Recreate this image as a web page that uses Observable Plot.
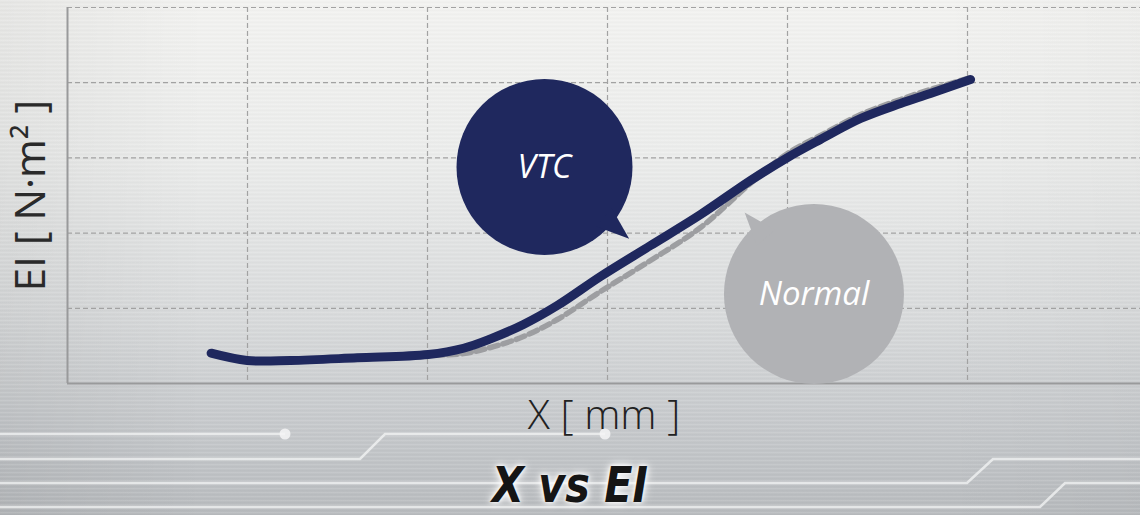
<!DOCTYPE html>
<html>
<head>
<meta charset="utf-8">
<script src="https://cdn.jsdelivr.net/npm/d3@7"></script>
<script src="https://cdn.jsdelivr.net/npm/@observablehq/plot@0.6"></script>
<style>
  html, body { margin: 0; padding: 0; }
  body { width: 1140px; height: 515px; overflow: hidden; }
  #wrap {
    position: relative; width: 1140px; height: 515px; overflow: hidden;
    background:
      repeating-linear-gradient(180deg, rgba(255,255,255,0.10) 0px, rgba(255,255,255,0.10) 1px, rgba(0,0,0,0.025) 2px, rgba(0,0,0,0) 4px),
      linear-gradient(90deg, rgba(0,0,0,0.05), rgba(0,0,0,0) 18%, rgba(0,0,0,0) 82%, rgba(0,0,0,0.02)),
      linear-gradient(180deg, #f3f3f1 0%, #ecedec 30%, #dadcdd 60%, #c4c7ca 85%, #b8bbbe 100%);
  }
  #deco { position: absolute; left: 0; top: 0; }
  #chart { position: absolute; left: 0; top: 0; }
  #title {
    position: absolute; left: 0; top: 460px; width: 1140px; height: 50px; text-align: center;
    font: italic bold 50px/50px "Liberation Sans Narrow", "DejaVu Sans Condensed", sans-serif;
    font-stretch: condensed; color: #151515;
    transform: scaleX(0.92); transform-origin: 570px 0;
    text-shadow: 0 0 4px #fff, 0 0 8px #fff, 0 0 12px rgba(255,255,255,0.8);
  }
</style>
</head>
<body>
<div id="wrap">
  <svg id="deco" width="1140" height="515" viewBox="0 0 1140 515">
    <g fill="none" stroke="rgba(244,245,246,0.75)" stroke-width="2.5">
      <path d="M0 434 H285"/>
      <path d="M605 434 H385 L360 459 H0"/>
      <path d="M1140 459 H993 L967 483 H0"/>
      <path d="M1140 483 H1065 L1040 507 H0"/>
    </g>
    <g fill="rgba(244,245,246,0.85)">
      <circle cx="285" cy="434" r="5.5"/>
      <circle cx="605" cy="434" r="5.5"/>
    </g>
  </svg>
  <div id="chart"></div>
  <div id="title">X vs EI</div>
</div>
<script>
// ---- data ----
const xTicks = [0, 1, 2, 3, 4, 5];
const yTicks = [0, 1, 2, 3, 4, 5];
const xPos = [0.798, 0.998, 1.239, 1.609, 2.004, 2.2, 2.35, 2.533, 2.721, 2.961, 3.239, 3.517, 3.794, 4.0, 4.183, 4.406, 4.628, 4.794, 5.017];
const vtcEI = [0.403, 0.306, 0.306, 0.342, 0.386, 0.469, 0.594, 0.785, 1.037, 1.423, 1.835, 2.247, 2.699, 3.005, 3.245, 3.524, 3.723, 3.856, 4.043];
const normalEI = [0.403, 0.306, 0.306, 0.342, 0.372, 0.399, 0.479, 0.625, 0.851, 1.223, 1.636, 2.074, 2.66, 3.059, 3.298, 3.577, 3.777, 3.91, 4.069];
const bubbleNames = ["VTC", "Normal"];
const bubbleX = [2.65, 4.147];
const bubbleY = [2.879, 1.19];
const axisLabels = ["X [ mm ]", "EI [ N·m² ]"];

// ---- build ----
const vtc = xPos.map((x, i) => ({x, ei: vtcEI[i]}));
const normal = xPos.map((x, i) => ({x, ei: normalEI[i]}));
const bubbles = bubbleNames.map((name, i) => ({name, x: bubbleX[i], y: bubbleY[i]}));

const W = 1140, H = 440, ML = 67, MR = 0, MT = 7, MB = 57;
const unitPx = 180;
const xMax = (W - ML - MR) / unitPx;

const bubbleStyle = [
  {fill: "#1f285e", r: 88, angle: 40.3, dist: 80},
  {fill: "#b1b2b5", r: 90, angle: -130.4, dist: 76}
];
const tailSymbol = {
  draw(ctx) {
    ctx.moveTo(0, -31);
    ctx.lineTo(12, 2);
    ctx.lineTo(-12, 2);
    ctx.closePath();
  }
};

const bubbleMarks = bubbles.flatMap((b, i) => {
  const s = bubbleStyle[i];
  const a = s.angle * Math.PI / 180;
  return [
    Plot.dot([b], {x: "x", y: "y", r: s.r, fill: s.fill, stroke: "none"}),
    Plot.dot([b], {x: "x", y: "y", symbol: tailSymbol, r: 10, fill: s.fill, stroke: "none",
      rotate: s.angle + 90, dx: s.dist * Math.cos(a), dy: s.dist * Math.sin(a)})
  ];
});

const chart = Plot.plot({
  width: W, height: H,
  marginLeft: ML, marginRight: MR, marginTop: MT, marginBottom: MB,
  style: {background: "transparent", fontFamily: "'Open Sans', sans-serif", overflow: "visible"},
  x: {domain: [0, xMax], axis: null},
  y: {domain: [0, 5], axis: null},
  marks: [
    Plot.ruleX(xTicks.filter(t => t > 0), {stroke: "#a2a2a2", strokeWidth: 1.2, strokeDasharray: "5,3"}),
    Plot.ruleY(yTicks.filter(t => t > 0), {stroke: "#a2a2a2", strokeWidth: 1.2, strokeDasharray: "5,3"}),
    Plot.ruleX([0], {stroke: "#999a9b", strokeWidth: 2}),
    Plot.ruleY([0], {stroke: "#999a9b", strokeWidth: 2}),
    ...bubbleMarks,
    Plot.text(bubbles, {x: "x", y: "y", text: "name", fill: "white", fontSize: 33, fontStyle: "italic", fontFamily: "'Open Sans', sans-serif"}),
    Plot.line(normal, {x: "x", y: "ei", curve: "catmull-rom", stroke: "#9d9ea1", strokeWidth: 5.5, strokeDasharray: "9,5"}),
    Plot.line(vtc, {x: "x", y: "ei", curve: "catmull-rom", stroke: "#1f285e", strokeWidth: 9, strokeLinecap: "round", strokeLinejoin: "round"}),
    Plot.text([axisLabels[0]], {frameAnchor: "bottom", lineAnchor: "middle", textAnchor: "middle", dy: 32, fontSize: 41, fontWeight: 300, fill: "#222", fontFamily: "'Open Sans', sans-serif"}),
    Plot.text([axisLabels[1]], {frameAnchor: "left", lineAnchor: "middle", textAnchor: "middle", dx: -36, rotate: -90, fontSize: 42, fontWeight: 400, fill: "#2a2a2a", fontFamily: "'Open Sans', sans-serif"})
  ]
});
document.getElementById("chart").appendChild(chart);
</script>
</body>
</html>
